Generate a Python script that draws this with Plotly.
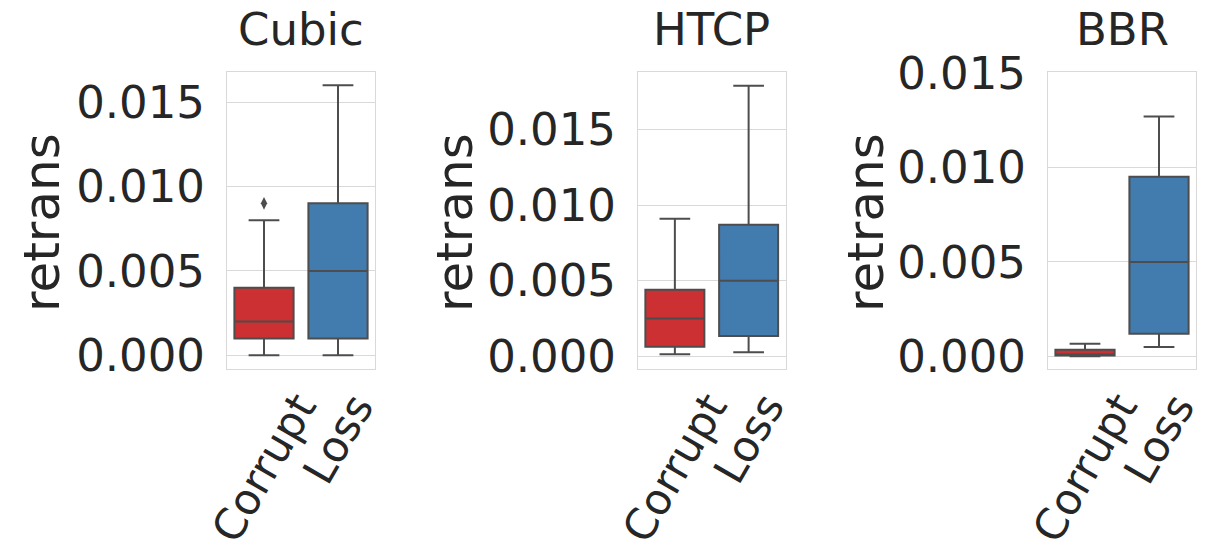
import plotly.graph_objects as go

# Box statistics of the retransmission ratio per congestion-control algorithm
algorithms = ["Cubic", "HTCP", "BBR"]
conditions = ["Corrupt", "Loss"]

q1 = {"Cubic": [0.0010, 0.0010], "HTCP": [0.00064, 0.00135], "BBR": [0.00004, 0.0012]}
median = {"Cubic": [0.0020, 0.0050], "HTCP": [0.0025, 0.0050], "BBR": [0.00006, 0.0050]}
q3 = {"Cubic": [0.0040, 0.0090], "HTCP": [0.0044, 0.0087], "BBR": [0.00035, 0.0095]}
lower_whisker = {"Cubic": [0.0, 0.0], "HTCP": [0.00013, 0.00027], "BBR": [0.0, 0.0005]}
upper_whisker = {"Cubic": [0.0080, 0.0160], "HTCP": [0.0091, 0.0179], "BBR": [0.00067, 0.0127]}
outliers = {"Cubic": [("Corrupt", 0.0090)], "HTCP": [], "BBR": []}

y_ranges = {"Cubic": [-0.00081, 0.01678], "HTCP": [-0.00084, 0.01881], "BBR": [-0.00067, 0.01505]}
y_ticks = [0.0, 0.005, 0.010, 0.015]

fill_colors = ["#cd3032", "#427bae"]
line_gray = "#4d4d4d"
text_color = "#262626"
grid_color = "#d9d9d9"
FONT = "DejaVu Sans"
TICK_FS = 45
CAT_FS = 43
TITLE_FS = 45
LABEL_FS = 50

W, H = 1208, 553
x_domains = [[227 / W, 375 / W], [638 / W, 785.5 / W], [1048 / W, 1196 / W]]
y_domain = [(H - 369) / H, (H - 72) / H]
ylabel_x = [42 / W, 455 / W, 866 / W]

fig = go.Figure()
annotations = []

for i, alg in enumerate(algorithms):
    suffix = "" if i == 0 else str(i + 1)
    xa, ya = "x" + suffix, "y" + suffix
    for j, cond in enumerate(conditions):
        fig.add_trace(go.Box(
            x=[cond],
            q1=[q1[alg][j]], median=[median[alg][j]], q3=[q3[alg][j]],
            lowerfence=[lower_whisker[alg][j]], upperfence=[upper_whisker[alg][j]],
            boxpoints=False,
            width=0.8,
            whiskerwidth=0.52,
            fillcolor=fill_colors[j],
            line=dict(color=line_gray, width=2),
            xaxis=xa, yaxis=ya,
            showlegend=False,
            hoverinfo="skip",
        ))
    if outliers[alg]:
        fig.add_trace(go.Scatter(
            x=[o[0] for o in outliers[alg]], y=[o[1] for o in outliers[alg]],
            mode="markers",
            marker=dict(symbol="diamond-tall", size=9, color=line_gray),
            xaxis=xa, yaxis=ya, showlegend=False, hoverinfo="skip",
        ))

    fig.update_layout(**{
        "xaxis" + suffix: dict(
            domain=x_domains[i], anchor=ya, type="category",
            categoryorder="array", categoryarray=conditions,
            range=[-0.5, 1.5], showgrid=False, showticklabels=False,
            showline=True, mirror=True, linecolor=grid_color, linewidth=1,
            zeroline=False, fixedrange=True, automargin=False,
        ),
        "yaxis" + suffix: dict(
            domain=y_domain, anchor=xa, range=y_ranges[alg],
            tickvals=y_ticks, tickformat=".3f",
            tickfont=dict(family=FONT, size=TICK_FS, color=text_color),
            ticklabelstandoff=12,
            showgrid=True, gridcolor=grid_color, gridwidth=1,
            showline=True, mirror=True, linecolor=grid_color, linewidth=1,
            zeroline=False, fixedrange=True, automargin=False,
        ),
    })

    # subplot title
    annotations.append(dict(
        text=alg, xref=xa + " domain", yref="paper", x=0.5, y=y_domain[1],
        xanchor="center", yanchor="bottom", yshift=14, showarrow=False,
        font=dict(family=FONT, size=TITLE_FS, color=text_color),
    ))
    # y-axis title
    annotations.append(dict(
        text="retrans", xref="paper", yref="paper", x=ylabel_x[i], y=(H - 223) / H,
        xanchor="center", yanchor="middle", textangle=-90, showarrow=False,
        font=dict(family=FONT, size=LABEL_FS, color=text_color),
    ))
    # rotated category labels
    for j, cond in enumerate(conditions):
        annotations.append(dict(
            text=cond, xref=xa, yref="paper", x=j, y=y_domain[0],
            xanchor="center", yanchor="top", yshift=-14, textangle=-60,
            showarrow=False,
            font=dict(family=FONT, size=CAT_FS, color=text_color),
        ))

fig.update_layout(
    width=W, height=H,
    margin=dict(l=0, r=0, t=0, b=0, autoexpand=False),
    paper_bgcolor="white", plot_bgcolor="white",
    boxmode="overlay",
    annotations=annotations,
)

fig.write_html("out.html")
